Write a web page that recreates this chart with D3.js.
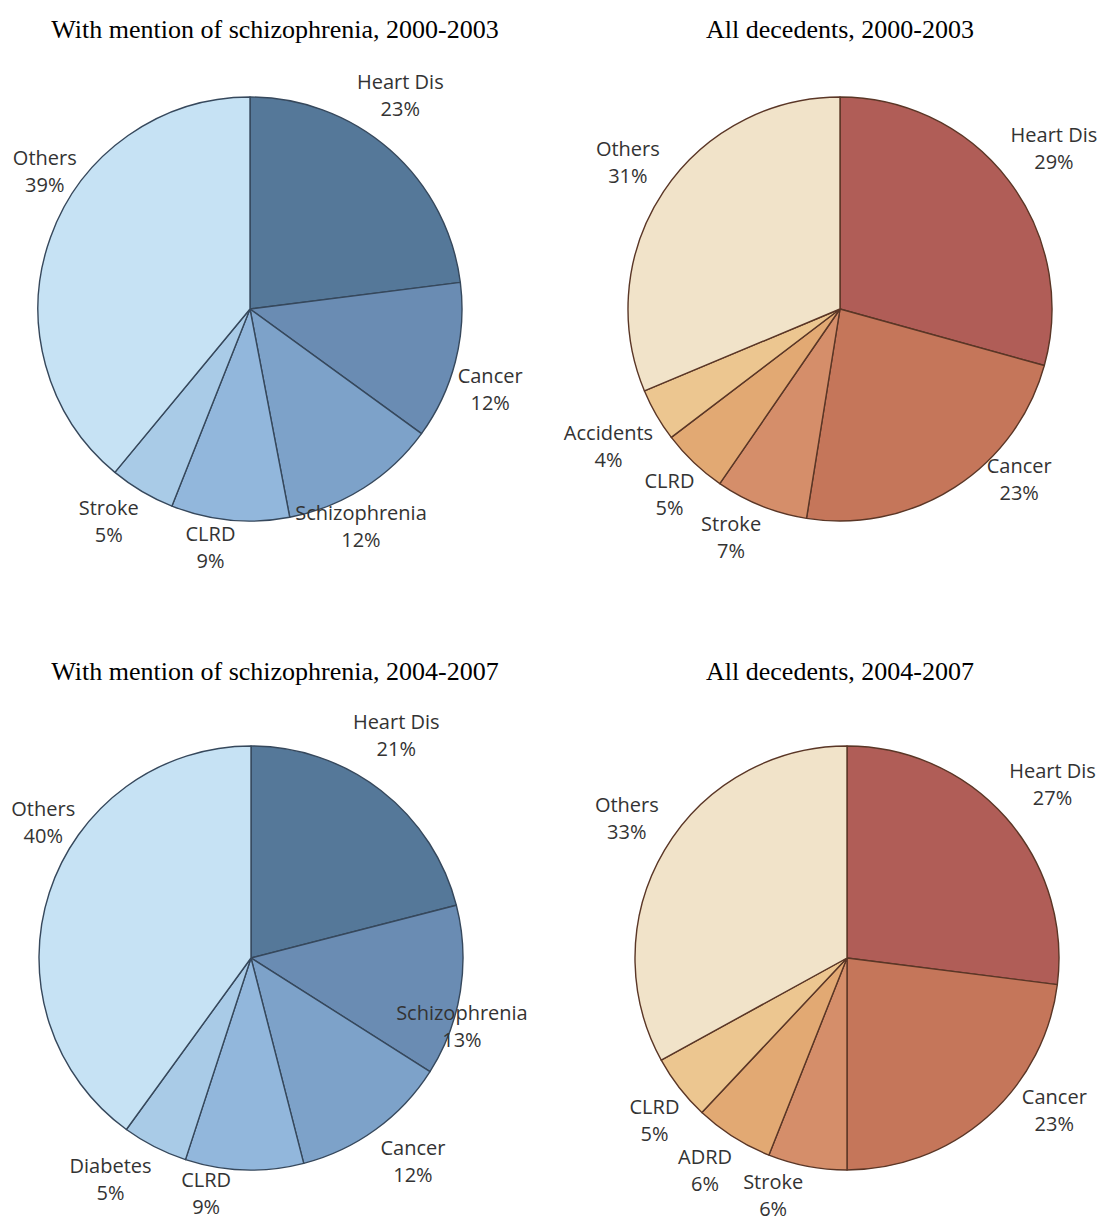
<!DOCTYPE html>
<html>
<head>
<meta charset="utf-8">
<script src="https://cdn.jsdelivr.net/npm/d3@7"></script>
<style>
    body { margin: 0; background: #fff; }
    .title { font-family: "Liberation Serif", "Times New Roman", serif; font-size: 26px; fill: #000; }
    .label { font-family: "Open Sans", sans-serif; font-size: 20px; fill: #333; }
</style>
</head>
<body>
<div id="container"></div>
<script>
// data (percent of deaths)
const schizCats0003 = ["Heart Dis", "Cancer", "Schizophrenia", "CLRD", "Stroke", "Others"];
const schizVals0003 = [23, 12, 12, 9, 5, 39];

const allCats0003 = ["Heart Dis", "Cancer", "Stroke", "CLRD", "Accidents", "Others"];
const allVals0003 = [29, 23, 7, 5, 4, 31];

const schizCats0407 = ["Heart Dis", "Schizophrenia", "Cancer", "CLRD", "Diabetes", "Others"];
const schizVals0407 = [21, 13, 12, 9, 5, 40];

const allCats0407 = ["Heart Dis", "Cancer", "Stroke", "ADRD", "CLRD", "Others"];
const allVals0407 = [27, 23, 6, 6, 5, 33];

const titles = [
    "With mention of schizophrenia, 2000-2003",
    "All decedents, 2000-2003",
    "With mention of schizophrenia, 2004-2007",
    "All decedents, 2004-2007"
];

document.addEventListener("DOMContentLoaded", () => {
    const w = 1102;
    const h = 1221;
    const r = 212;
    const labelR = 250;

    // colours, one per slice in order
    const blues = ["#557899", "#6a8cb3", "#7da2c9", "#92b7dc", "#a9cbe7", "#c6e2f4"];
    const browns = ["#b05d57", "#c5765a", "#d58e6a", "#e2a973", "#ecc690", "#f1e3c9"];

    // pie centres and title positions
    const panels = [
        { cats: schizCats0003, vals: schizVals0003, cx: 250, cy: 309, tx: 275, ty: 38, colors: blues, line: "#36485c" },
        { cats: allCats0003, vals: allVals0003, cx: 840, cy: 309, tx: 840, ty: 38, colors: browns, line: "#5a3626" },
        { cats: schizCats0407, vals: schizVals0407, cx: 251, cy: 958, tx: 275, ty: 680, colors: blues, line: "#36485c" },
        { cats: allCats0407, vals: allVals0407, cx: 847, cy: 958, tx: 840, ty: 680, colors: browns, line: "#5a3626" }
    ];

    // hand nudges of the labels, like the excel label placement
    const labelNudge = [
        [[-15, -26], [-2, 18], [-23, 6], [-16, -10], [-14, -3], [30, -53]],
        [[15, -9], [44, -40], [-16, -4], [2, 5], [-15, 12], [-4, -8]],
        [[-8, -25], [-36, 29], [15, 1], [-37, -14], [-27, -1], [30, -58]],
        [[18, -8], [42, -35], [-27, -8], [-8, 1], [5, 9], [-5, -12]]
    ];

    const svg = d3.select("#container")
        .append("svg")
        .attr("width", w)
        .attr("height", h);

    const pie = d3.pie().sort(null).value((d) => d.value);
    const arc = d3.arc().innerRadius(0).outerRadius(r);
    const labelArc = d3.arc().innerRadius(labelR).outerRadius(labelR);

    panels.forEach((p, k) => {
        const data = p.cats.map((c, i) => ({ name: c, value: p.vals[i] }));
        const arcs = pie(data);

        svg.append("text")
            .attr("class", "title")
            .attr("x", p.tx)
            .attr("y", p.ty)
            .attr("text-anchor", "middle")
            .text(titles[k]);

        const g = svg.append("g")
            .attr("transform", `translate(${p.cx},${p.cy})`);

        g.selectAll(".slice")
            .data(arcs)
            .enter().append("path")
            .attr("class", "slice")
            .attr("d", arc)
            .attr("fill", (d, i) => p.colors[i])
            .attr("stroke", p.line)
            .attr("stroke-width", 1.4)
            .attr("stroke-linejoin", "round");

        const labels = g.selectAll(".label")
            .data(arcs)
            .enter().append("text")
            .attr("class", "label")
            .attr("text-anchor", "middle")
            .attr("transform", (d, i) => {
                const c = labelArc.centroid(d);
                return `translate(${c[0] + labelNudge[k][i][0]},${c[1] + labelNudge[k][i][1]})`;
            });

        labels.append("tspan")
            .attr("x", 0)
            .attr("y", -6.5)
            .text((d) => d.data.name);

        labels.append("tspan")
            .attr("x", 0)
            .attr("y", 20.5)
            .text((d) => `${d.data.value}%`);
    });
});
</script>
</body>
</html>
